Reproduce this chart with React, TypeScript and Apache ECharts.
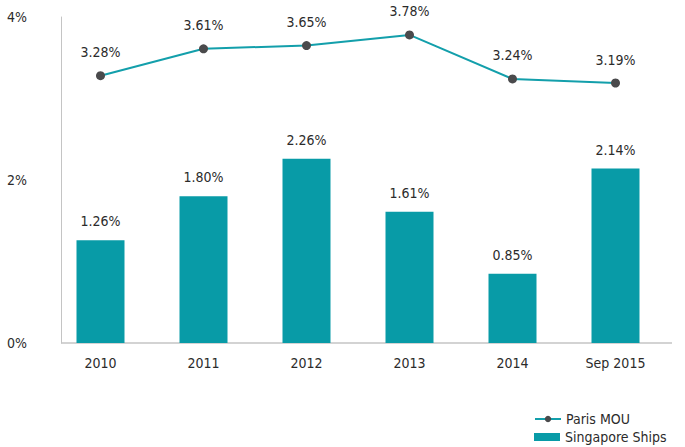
import { useEffect, useRef } from 'react'
import * as echarts from 'echarts'

const categories = ['2010', '2011', '2012', '2013', '2014', 'Sep 2015']
const parisMou = [3.28, 3.61, 3.65, 3.78, 3.24, 3.19]
const singaporeShips = [1.26, 1.8, 2.26, 1.61, 0.85, 2.14]
const yTicks = [0, 2, 4]

const FONT = "'Liberation Sans Narrow', 'Arial Narrow', 'DejaVu Sans Condensed', sans-serif"
const TEXT = '#2b2b2b'
const TEAL_LINE = '#139fab'
const TEAL_BAR = '#089ba7'
const DOT = '#4a4a4c'
const AXIS = '#c4c4c4'
const FS = 14

const legendBase = {
  orient: 'vertical',
  left: 529,
  itemWidth: 26,
  itemHeight: 8,
  itemGap: 0,
  textStyle: { fontFamily: FONT, fontSize: FS, color: TEXT },
}

export default function App() {
  const ref = useRef<HTMLDivElement | null>(null)

  useEffect(() => {
    if (!ref.current) return
    const chart = echarts.init(ref.current, undefined, { renderer: 'svg' })
    chart.setOption({
      animation: false,
      textStyle: { fontFamily: FONT, color: TEXT },
      grid: { left: 49, right: 18, top: 17, bottom: 104 },
      legend: [
        { ...legendBase, top: 407, data: [{ name: 'Paris MOU' }] },
        { ...legendBase, top: 425, data: [{ name: 'Singapore Ships', icon: 'rect' }] },
      ],
      xAxis: {
        type: 'category',
        data: categories,
        axisLine: { show: false },
        axisTick: { show: false },
        axisLabel: { fontFamily: FONT, fontSize: FS, color: TEXT, margin: 13 },
      },
      yAxis: {
        type: 'value',
        min: 0,
        max: 4,
        interval: 2,
        offset: -12,
        splitLine: { show: false },
        axisTick: { show: false },
        axisLine: { show: true, lineStyle: { color: AXIS, width: 1 } },
        axisLabel: {
          fontFamily: FONT,
          fontSize: FS,
          color: TEXT,
          align: 'left',
          margin: 54,
          padding: [0, 0, 10, 0],
          formatter: (v: number) => (yTicks.includes(v) ? `${v}%` : ''),
        },
      },
      graphic: [
        {
          type: 'line',
          shape: { x1: 61, y1: 343, x2: 672, y2: 343 },
          style: { stroke: AXIS, lineWidth: 1.5 },
          z: 1,
        },
      ],
      series: [
        {
          name: 'Singapore Ships',
          type: 'bar',
          data: singaporeShips,
          barWidth: 48,
          itemStyle: { color: TEAL_BAR },
          label: {
            show: true,
            position: 'top',
            distance: 12,
            fontFamily: FONT,
            fontSize: FS,
            color: TEXT,
            formatter: (p: any) => `${p.value.toFixed(2)}%`,
          },
          z: 2,
        },
        {
          name: 'Paris MOU',
          type: 'line',
          data: parisMou,
          symbol: 'circle',
          symbolSize: 9,
          itemStyle: { color: DOT },
          lineStyle: { color: TEAL_LINE, width: 2 },
          label: {
            show: true,
            position: 'top',
            distance: 12,
            fontFamily: FONT,
            fontSize: FS,
            color: TEXT,
            formatter: (p: any) => `${p.value.toFixed(2)}%`,
          },
          z: 3,
        },
      ],
    })
    return () => chart.dispose()
  }, [])

  return (
    <div
      ref={ref}
      style={{ position: 'absolute', left: 0, top: 0, width: 685, height: 447, background: '#fff' }}
    />
  )
}
